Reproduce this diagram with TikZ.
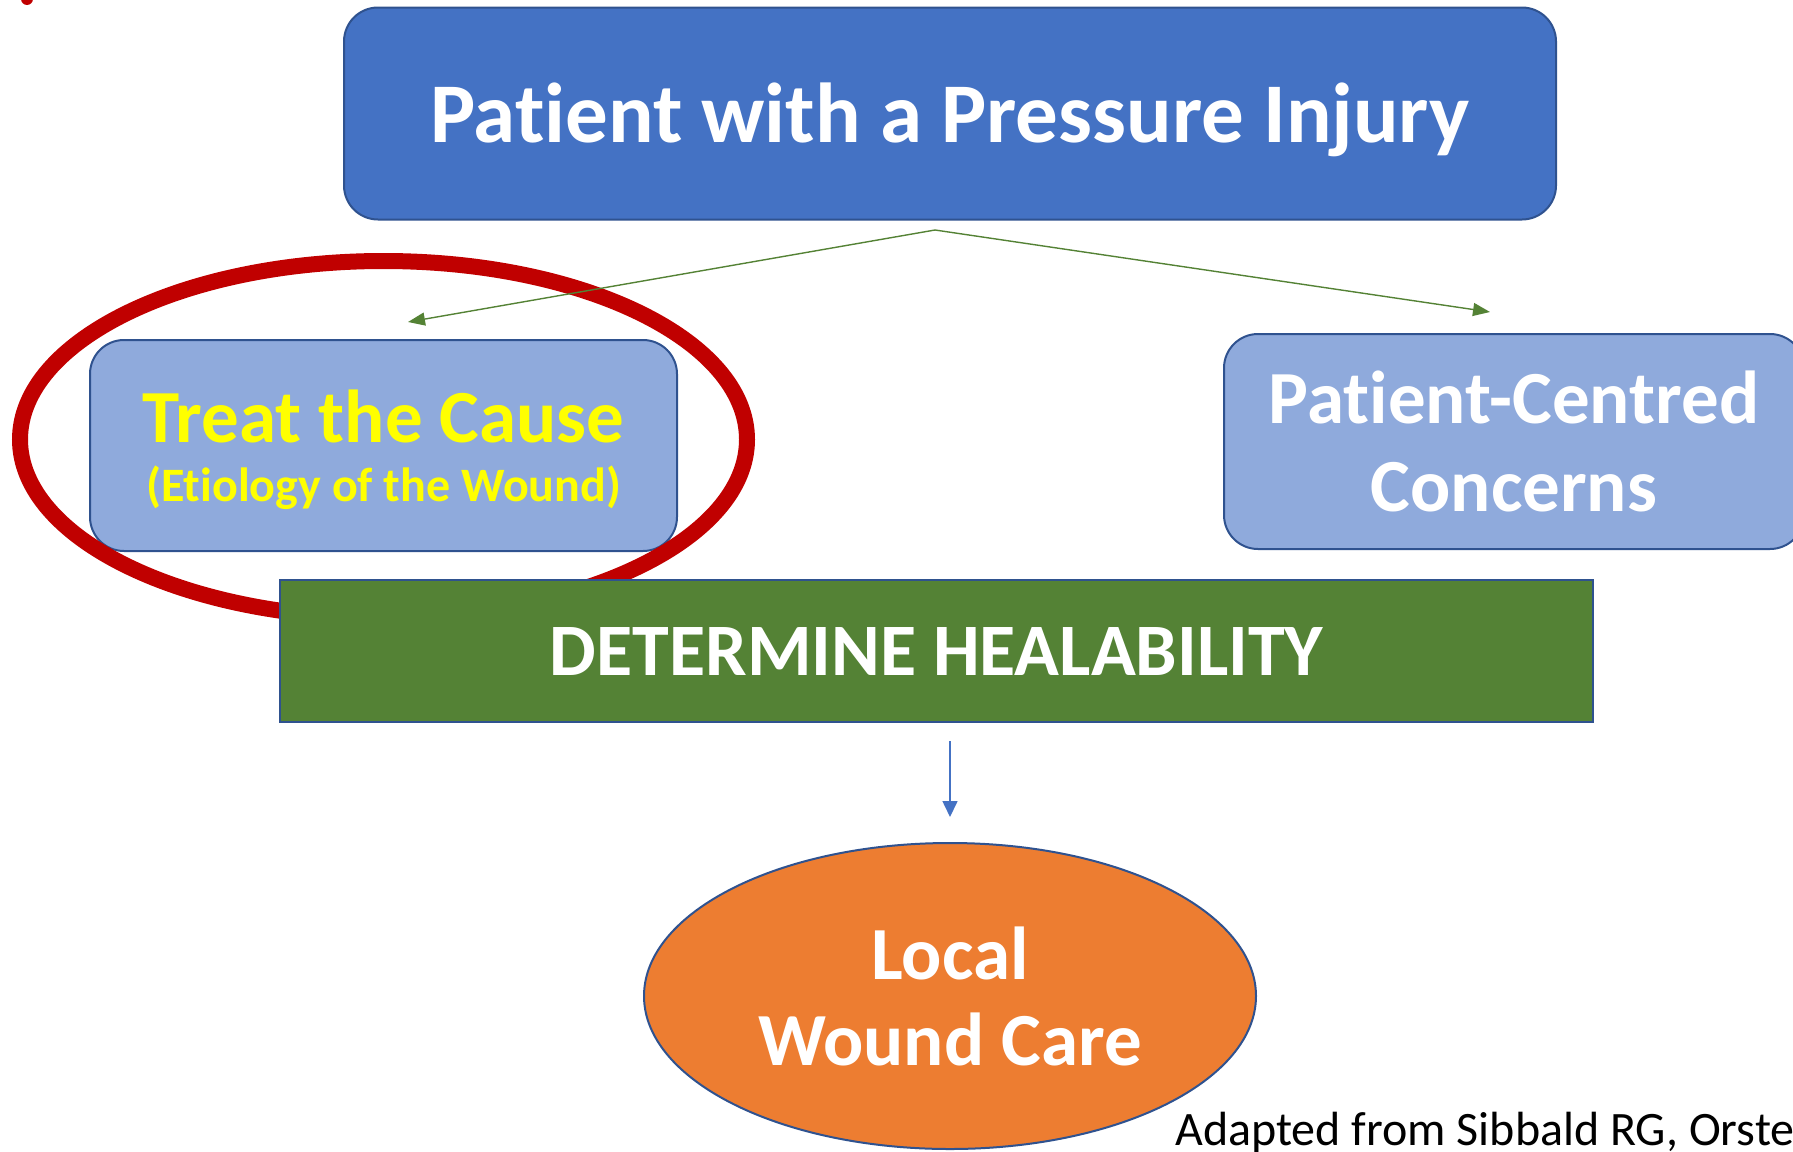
\documentclass[tikz,border=0pt]{standalone}
\usepackage{fontspec}
\setmainfont{Carlito}[Ligatures=NoCommon,Contextuals=NoAlternate]
\usetikzlibrary{arrows.meta,shapes.geometric}
\definecolor{topblue}{HTML}{4472C4}
\definecolor{edgeblue}{HTML}{2F528F}
\definecolor{lightblue}{HTML}{8FAADC}
\definecolor{darkgreen}{HTML}{548235}
\definecolor{orangefill}{HTML}{ED7D31}
\definecolor{redring}{HTML}{C00000}
\definecolor{yellowtext}{HTML}{FFFF00}
\tikzset{
  boxbase/.style={draw=edgeblue, line width=2pt, rounded corners=34pt, align=center, inner sep=0pt},
  topbox/.style={boxbase, fill=topblue, text=white},
  subbox/.style={boxbase, fill=lightblue},
  greenbox/.style={draw=edgeblue, line width=2pt, fill=darkgreen, text=white, inner sep=0pt},
  ovalbox/.style={ellipse, draw=edgeblue, line width=2pt, fill=orangefill, text=white, inner sep=0pt, align=center},
  ringstyle/.style={ellipse, draw=redring, line width=16pt, inner sep=0pt},
  greenarrow/.style={draw=darkgreen, line width=1.4pt, -{Triangle[length=17pt,width=13pt]}},
  bluearrow/.style={draw=topblue, line width=1.6pt, -{Triangle[length=16pt,width=15pt]}},
}
\begin{document}
\begin{tikzpicture}[x=1pt,y=-1pt]
\useasboundingbox (0,0) rectangle (1793,1151);
\clip (0,0) rectangle (1793,1151);
\fill[redring] (27,-1) ellipse [x radius=6, y radius=6];
% top box
\node[topbox, minimum width=1212pt, minimum height=212pt,
      font=\bfseries\fontsize{85}{100}\selectfont] (top) at (950,113.5)
  {\raisebox{-6pt}[\height][\depth]{Patient with a Pressure Injury}};
% left box
\node[subbox, minimum width=587pt, minimum height=211pt, text=yellowtext,
      font=\bfseries\fontsize{75}{59}\selectfont] (cause) at (383.5,445.5)
  {\raisebox{-4pt}[\height][\depth]{Treat the Cause}\\\fontsize{48}{59}\selectfont \raisebox{-4pt}[\height][\depth]{(Etiology of the Wound)}};
% right box
\node[subbox, minimum width=580pt, minimum height=215pt, text=white,
      font=\bfseries\fontsize{75}{88}\selectfont] (concerns) at (1514,441.5)
  {Patient-Centred\\Concerns};
% red ring
\node[ringstyle, minimum width=727pt, minimum height=357pt] (ring) at (383.5,439.5) {};
% green box
\node[greenbox, minimum width=1313pt, minimum height=142pt,
      font=\bfseries\fontsize{74}{80}\selectfont] (heal) at (936.5,651)
  {DETERMINE HEALABILITY};
% orange ellipse
\node[ovalbox, minimum width=612pt, minimum height=306pt,
      font=\bfseries\fontsize{75}{86}\selectfont] (local) at (950,996)
  {Local\\Wound Care};
% arrows
\coordinate (split) at (935,230);
\coordinate (tipL) at (408,322);
\coordinate (tipR) at (1490,312);
\draw[greenarrow] (split) -- (tipL);
\draw[greenarrow] (split) -- (tipR);
\coordinate (downA) at (950,741);
\coordinate (downB) at (950,817);
\draw[bluearrow] (downA) -- (downB);
% citation
\node[anchor=base west, inner sep=0pt, font=\fontsize{48}{50}\selectfont] (cite) at (1175,1145) {Adapted from Sibbald RG, Orstead};
\end{tikzpicture}
\end{document}
